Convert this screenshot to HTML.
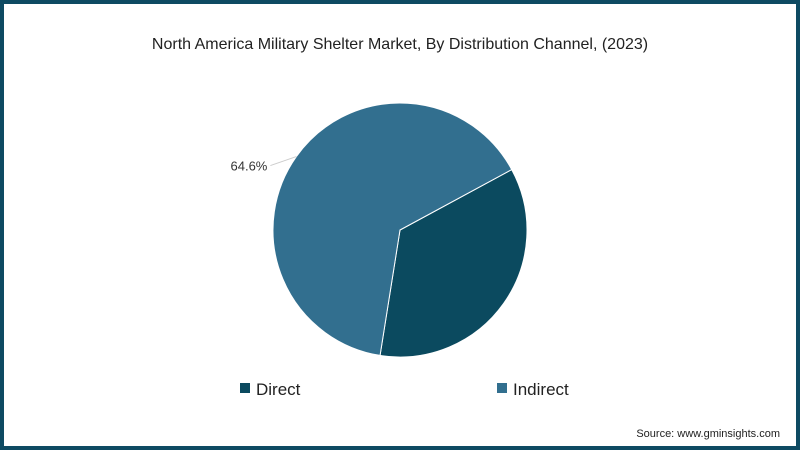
<!DOCTYPE html>
<html><head><meta charset="utf-8"><style>
html,body{margin:0;padding:0;background:#fff}
#frame{position:absolute;left:0;top:0;width:792px;height:442px;border:4px solid #0e4a62;background:#fff;font-family:"Liberation Sans",sans-serif}
</style></head><body>
<div id="frame">
<svg width="792" height="442" viewBox="4 4 792 442">
<text x="400" y="49" text-anchor="middle" font-size="16" fill="#222">North America Military Shelter Market, By Distribution Channel, (2023)</text>
<g id="slices"></g>
<g id="legend">
<rect x="240" y="383" width="10" height="10" fill="#0b4a5f"/>
<text x="256" y="395" font-size="17" fill="#222">Direct</text>
<rect x="497" y="383" width="10" height="10" fill="#326f8f"/>
<text x="513" y="395" font-size="17" fill="#222">Indirect</text>
</g>
<text x="780" y="437" text-anchor="end" font-size="11" fill="#222">Source: www.gminsights.com</text>
</svg>
</div>
<script>
const categories=["Direct","Indirect"];
const values=[35.4,64.6];
const labels=["","64.6%"];
const colors=["#0b4a5f","#326f8f"];
const cx=400,cy=230,r=127,start=61.6;
const g=document.getElementById('slices');
const ns="http://www.w3.org/2000/svg";
const total=values.reduce((a,b)=>a+b,0);
let a=start;
function pt(deg,rr){const t=deg*Math.PI/180;return [cx+rr*Math.sin(t),cy-rr*Math.cos(t)];}
values.forEach((v,i)=>{
  const sweep=v/total*360,b=a+sweep;
  const p1=pt(a,r),p2=pt(b,r);
  const p=document.createElementNS(ns,'path');
  p.setAttribute('d',`M${cx},${cy} L${p1[0]},${p1[1]} A${r},${r} 0 ${sweep>180?1:0} 1 ${p2[0]},${p2[1]} Z`);
  p.setAttribute('fill',colors[i]);p.setAttribute('stroke','#fff');p.setAttribute('stroke-width','1');
  
  
  g.appendChild(p);
  if(labels[i]){
    const mid=a+sweep/2;
    const e=pt(mid,r);
    const ox=e[0]-26,oy=e[1]+9;
    const l=document.createElementNS(ns,'polyline');
    l.setAttribute('points',`${e[0]},${e[1]} ${ox},${oy}`);
    l.setAttribute('fill','none');l.setAttribute('stroke','#ccc');
    
    
    g.appendChild(l);
    const t=document.createElementNS(ns,'text');
    t.setAttribute('x',ox-3);t.setAttribute('y',oy+5);t.setAttribute('text-anchor','end');
    t.setAttribute('font-size','13');t.setAttribute('fill','#333');
    t.textContent=labels[i];
    
    
    g.appendChild(t);
  }
  a=b;
});
</script>
</body></html>
